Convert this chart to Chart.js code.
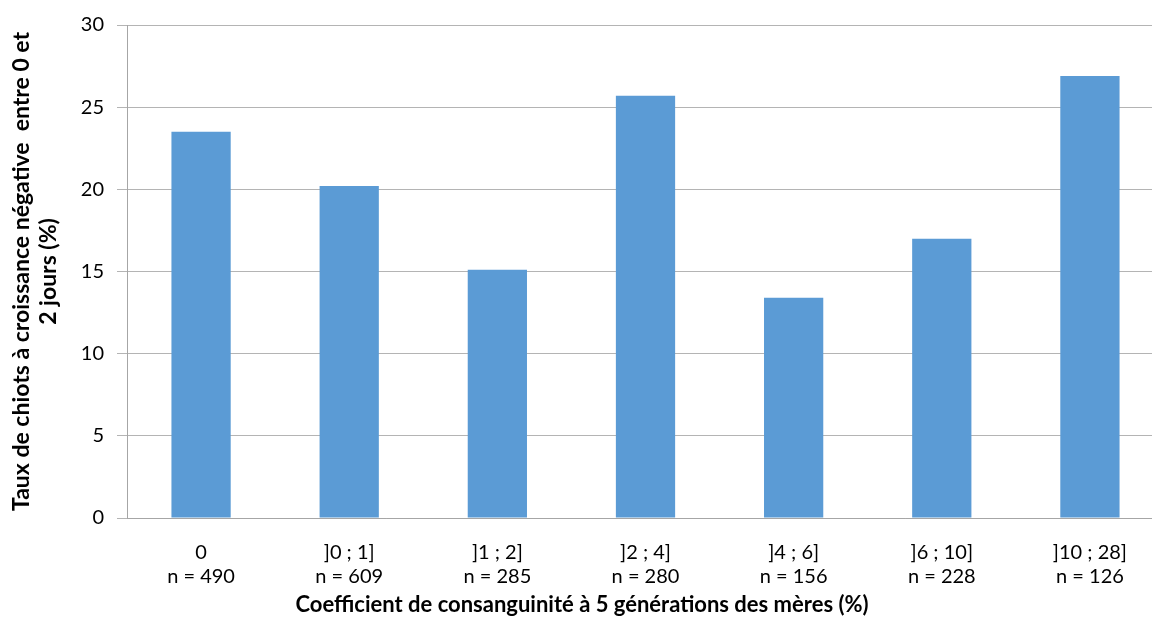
<!DOCTYPE html>
<html>
<head>
<meta charset="utf-8">
<script src="https://cdn.jsdelivr.net/npm/chart.js@4/dist/chart.umd.min.js"></script>
<style>
  html, body { margin: 0; padding: 0; background: #fff; overflow: hidden; }
  #wrap { width: 1166px; height: 619px; }
</style>
</head>
<body>
<div id="wrap"><canvas id="chart" width="1166" height="619"></canvas></div>
<script>
// Data
const classes = ['0', ']0 ; 1]', ']1 ; 2]', ']2 ; 4]', ']4 ; 6]', ']6 ; 10]', ']10 ; 28]'];
const counts = ['n = 490', 'n = 609', 'n = 285', 'n = 280', 'n = 156', 'n = 228', 'n = 126'];
const rates = [23.5, 20.2, 15.1, 25.7, 13.4, 17.0, 26.9];
const yTicks = [0, 5, 10, 15, 20, 25, 30];

const yTitle = ['Taux de chiots à croissance négative  entre 0 et', '2 jours (%)'];
const xTitle = 'Coefficient de consanguinité à 5 générations des mères (%)';

const FONT = 'Lato, "Open Sans", sans-serif';
const axisGray = '#a6a6a6';

const labels = classes.map((c, i) => [c, counts[i]]);

new Chart(document.getElementById('chart'), {
  type: 'bar',
  data: {
    labels: labels,
    datasets: [{
      data: rates,
      backgroundColor: '#5b9bd5',
      borderWidth: 0,
      barPercentage: 0.4,
      categoryPercentage: 1.0
    }]
  },
  options: {
    responsive: false,
    animation: false,
    devicePixelRatio: 1,
    layout: { padding: { top: 25, right: 2, left: 0, bottom: 0 } },
    plugins: {
      legend: { display: false },
      tooltip: { enabled: false },
      // x axis title, centred on the whole chart like the original
      title: {
        display: true,
        position: 'bottom',
        text: xTitle,
        color: '#000',
        padding: { top: 0, bottom: 1 },
        font: { family: FONT, size: 22, weight: 'bold', lineHeight: 1.2 }
      }
    },
    scales: {
      x: {
        grid: { display: false, drawTicks: false },
        border: { display: true, color: axisGray },
        ticks: {
          color: '#000',
          padding: 23,
          maxRotation: 0,
          autoSkip: false,
          font: { family: FONT, size: 20, lineHeight: 1.2 }
        },
        afterFit: (scale) => { scale.height = 73.6; }
      },
      y: {
        min: 0,
        max: 30,
        afterBuildTicks: (scale) => { scale.ticks = yTicks.map(v => ({ value: v })); },
        grid: { color: '#b4b4b4', tickLength: 10, drawTicks: true },
        border: { display: true, color: axisGray },
        ticks: {
          color: '#000',
          padding: 13,
          font: { family: FONT, size: 20 }
        },
        title: {
          display: true,
          text: yTitle,
          color: '#000',
          padding: { top: 8, bottom: 0 },
          font: { family: FONT, size: 23, weight: 'bold', lineHeight: 1.17 }
        },
        afterFit: (scale) => { scale.width = 127; }
      }
    }
  }
});
</script>
</body>
</html>
